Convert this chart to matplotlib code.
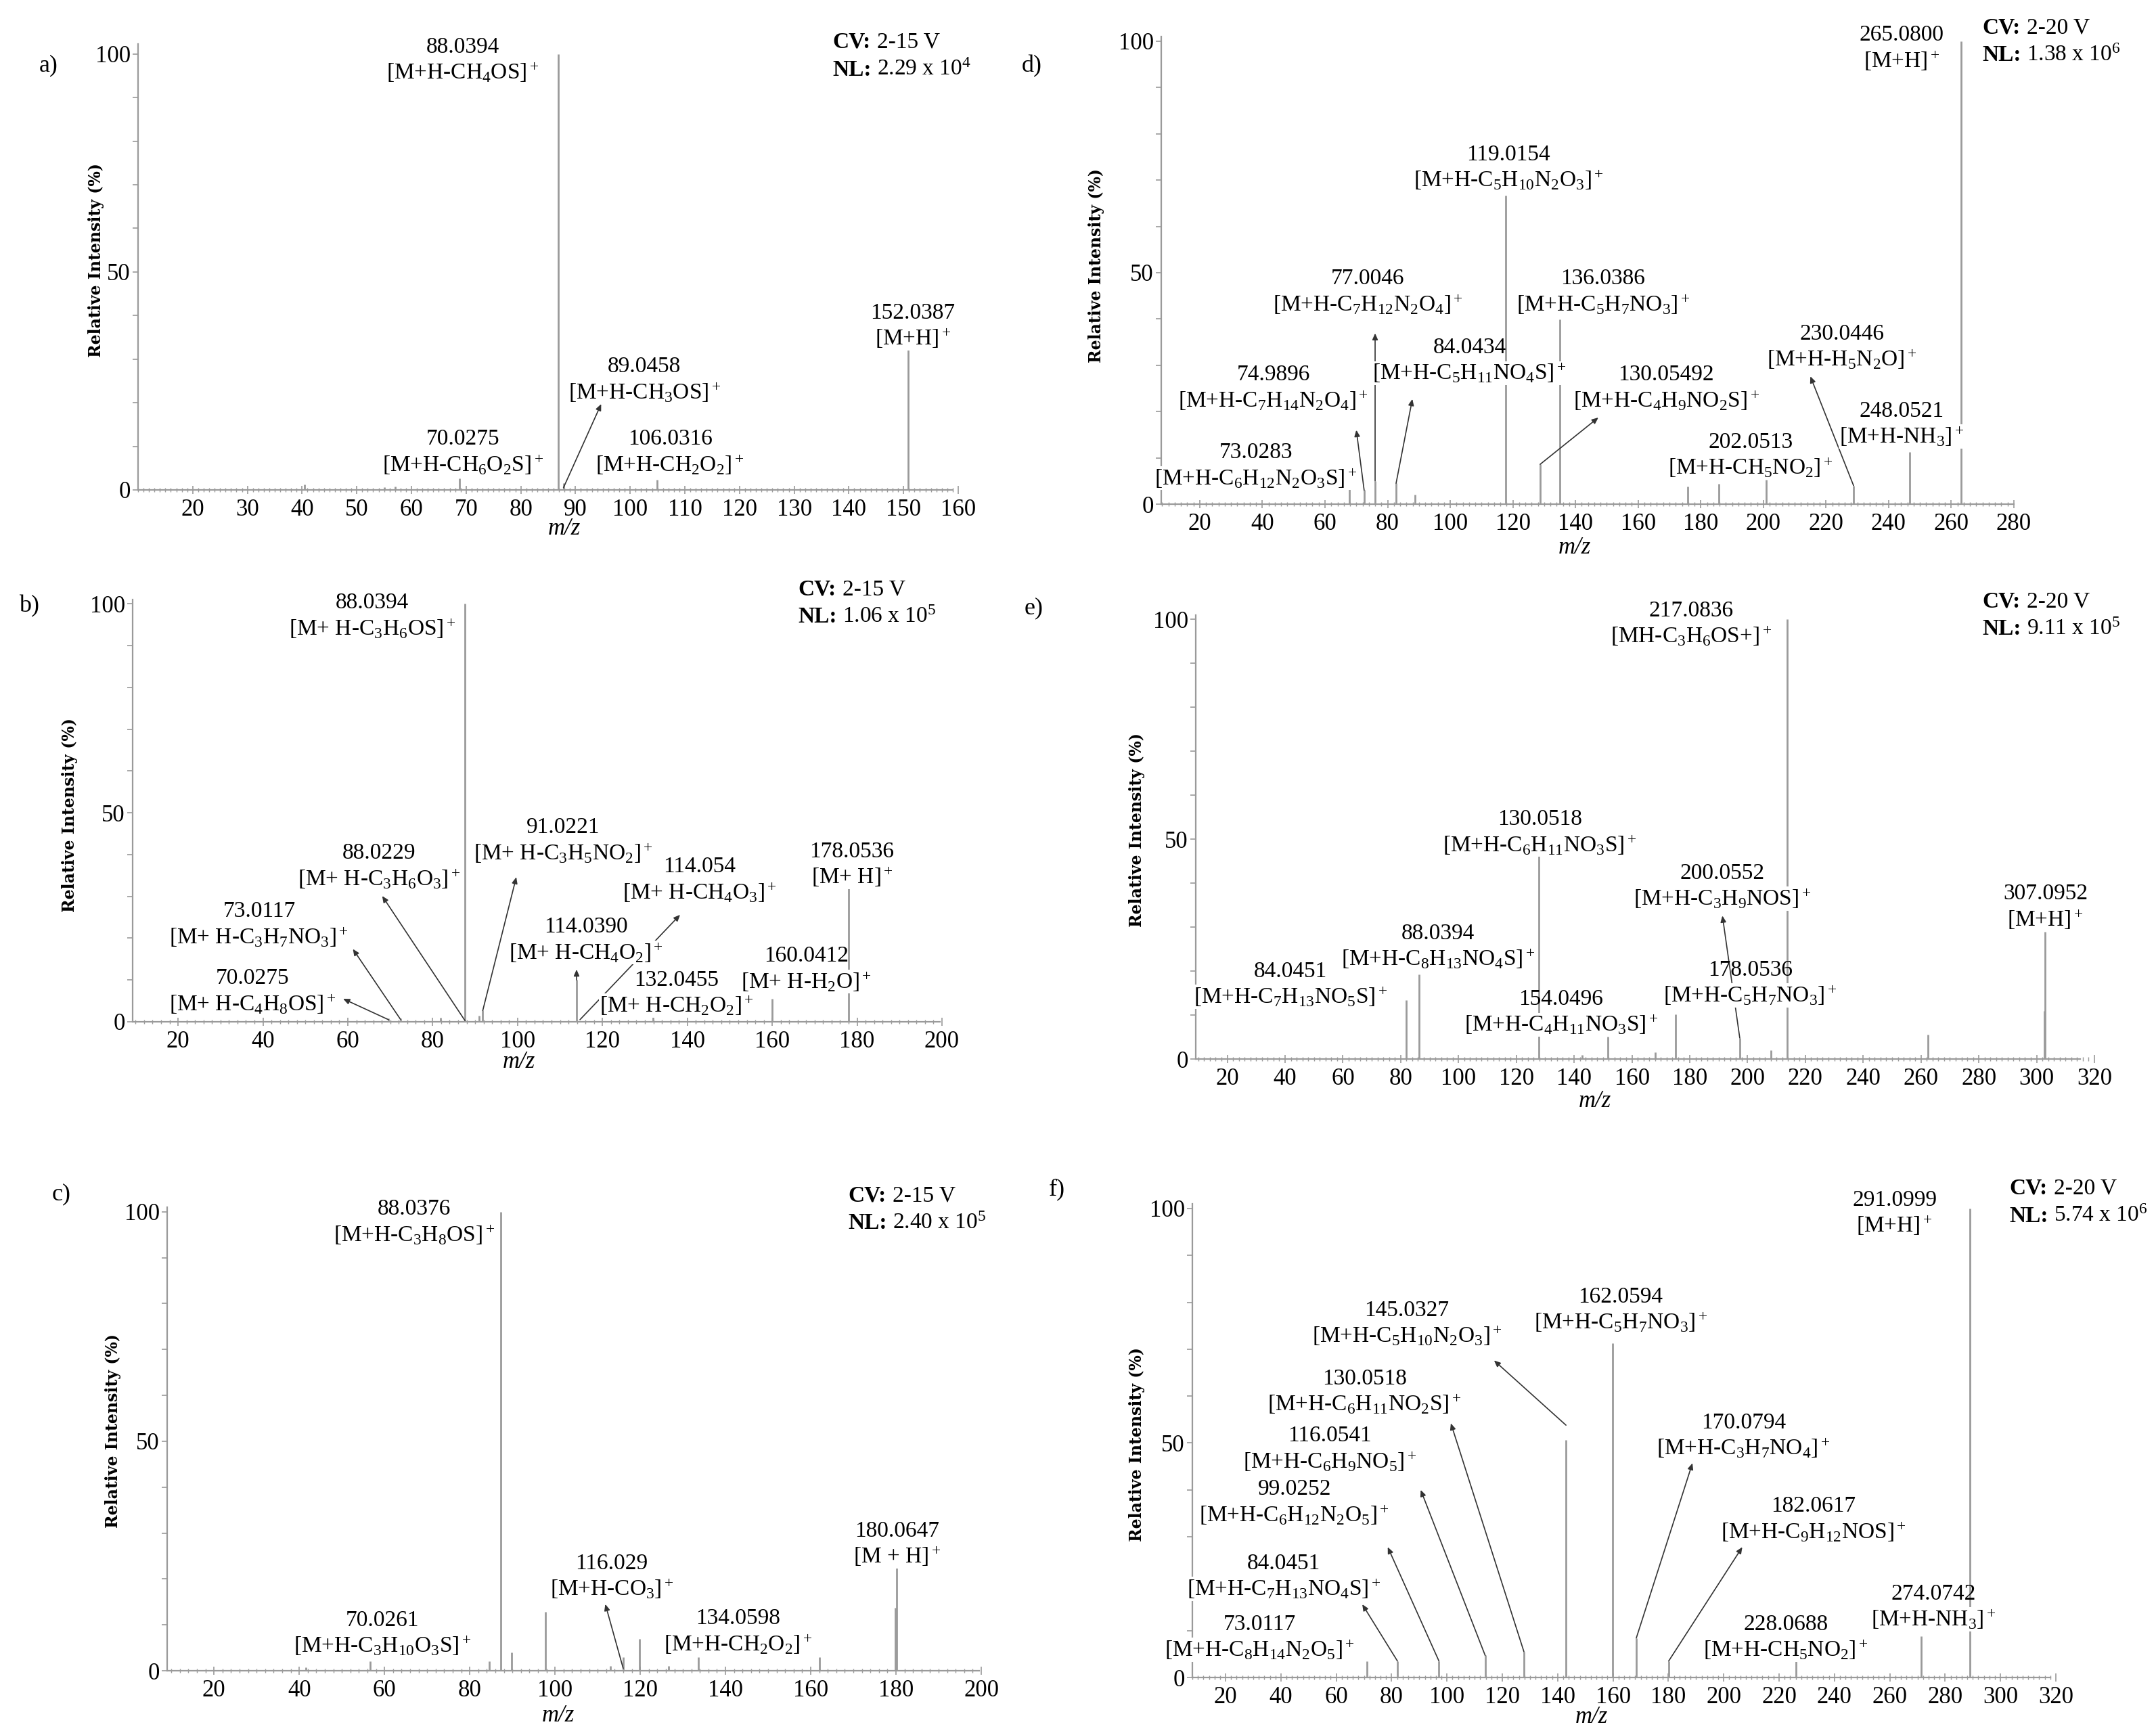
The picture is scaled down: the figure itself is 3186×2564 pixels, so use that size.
import matplotlib
matplotlib.use('Agg')
import numpy as np
import matplotlib.pyplot as plt
from matplotlib.ticker import MultipleLocator

plt.rcParams['font.family'] = ['Liberation Serif', 'DejaVu Serif']
plt.rcParams['mathtext.fontset'] = 'custom'
plt.rcParams['mathtext.rm'] = 'Liberation Serif'
plt.rcParams['mathtext.it'] = 'Liberation Serif:italic'
plt.rcParams['mathtext.bf'] = 'Liberation Serif:bold'

# ---- spectra: peak m/z and relative intensity (%) ----
mz_a = [40.5, 55, 57, 68.8, 86.9, 87.8, 104.9, 150.9]
int_a = [1.2, 0.6, 0.8, 2.7, 100, 1.5, 2.4, 32.1]
lab_a = [('88.0394', '[M+H-CH$_4$OS]$^+$'), ('152.0387', '[M+H]$^+$'),
         ('89.0458', '[M+H-CH$_3$OS]$^+$'), ('70.0275', '[M+H-CH$_6$O$_2$S]$^+$'),
         ('106.0316', '[M+H-CH$_2$O$_2$]$^+$')]

mz_b = [69.6, 72.4, 81.9, 87.6, 91.0, 91.8, 113.9, 131.9, 159.9, 178.0]
int_b = [0.8, 0.8, 1.0, 100, 1.5, 2.7, 10, 2.0, 5.5, 32.0]
lab_b = [('88.0394', '[M+ H-C$_3$H$_6$OS]$^+$'), ('88.0229', '[M+ H-C$_3$H$_6$O$_3$]$^+$'),
         ('91.0221', '[M+ H-C$_3$H$_5$NO$_2$]$^+$'), ('114.054', '[M+ H-CH$_4$O$_3$]$^+$'),
         ('178.0536', '[M+ H]$^+$'), ('73.0117', '[M+ H-C$_3$H$_7$NO$_3$]$^+$'),
         ('114.0390', '[M+ H-CH$_4$O$_2$]$^+$'), ('70.0275', '[M+ H-C$_4$H$_8$OS]$^+$'),
         ('132.0455', '[M+ H-CH$_2$O$_2$]$^+$'), ('160.0412', '[M+ H-H$_2$O]$^+$')]

mz_c = [41.5, 56.7, 84.5, 87.3, 89.8, 97.7, 113, 116, 119.8, 126.7, 133.6, 162, 179.8, 180.2]
int_c = [0.8, 2.0, 2.0, 100, 4.0, 12.8, 1.0, 3.0, 7.0, 1.0, 3.0, 3.0, 13.7, 23.3]
lab_c = [('88.0376', '[M+H-C$_3$H$_8$OS]$^+$'), ('180.0647', '[M + H]$^+$'),
         ('116.029', '[M+H-CO$_3$]$^+$'), ('70.0261', '[M+H-C$_3$H$_{10}$O$_3$S]$^+$'),
         ('134.0598', '[M+H-CH$_2$O$_2$]$^+$')]

mz_d = [67.8, 72.5, 76, 82.7, 88.7, 117.7, 128.7, 135, 175.8, 185.8, 200.9, 228.8, 246.7, 263.1]
int_d = [3.5, 3.0, 5.0, 4.5, 2.0, 66.7, 8.6, 39.9, 3.8, 4.4, 5.2, 4.0, 11.2, 100]
lab_d = [('265.0800', '[M+H]$^+$'), ('119.0154', '[M+H-C$_5$H$_{10}$N$_2$O$_3$]$^+$'),
         ('77.0046', '[M+H-C$_7$H$_{12}$N$_2$O$_4$]$^+$'), ('136.0386', '[M+H-C$_5$H$_7$NO$_3$]$^+$'),
         ('84.0434', '[M+H-C$_5$H$_{11}$NO$_4$S]$^+$'), ('74.9896', '[M+H-C$_7$H$_{14}$N$_2$O$_4$]$^+$'),
         ('130.05492', '[M+H-C$_4$H$_9$NO$_2$S]$^+$'), ('230.0446', '[M+H-H$_5$N$_2$O]$^+$'),
         ('248.0521', '[M+H-NH$_3$]$^+$'), ('202.0513', '[M+H-CH$_5$NO$_2$]$^+$'),
         ('73.0283', '[M+H-C$_6$H$_{12}$N$_2$O$_3$S]$^+$')]

mz_e = [82, 86.3, 127.7, 142.7, 151.6, 168, 175, 197.3, 208, 213.7, 262.4, 302.6, 303]
int_e = [13.4, 19.2, 46.8, 1.0, 5.1, 1.5, 10.2, 4.8, 2.0, 100, 5.5, 11, 29]
lab_e = [('217.0836', '[MH-C$_3$H$_6$OS+]$^+$'), ('130.0518', '[M+H-C$_6$H$_{11}$NO$_3$S]$^+$'),
         ('200.0552', '[M+H-C$_3$H$_9$NOS]$^+$'), ('307.0952', '[M+H]$^+$'),
         ('88.0394', '[M+H-C$_8$H$_{13}$NO$_4$S]$^+$'), ('84.0451', '[M+H-C$_7$H$_{13}$NO$_5$S]$^+$'),
         ('178.0536', '[M+H-C$_5$H$_7$NO$_3$]$^+$'), ('154.0496', '[M+H-C$_4$H$_{11}$NO$_3$S]$^+$')]

mz_f = [71, 82.1, 97.1, 113.8, 127.8, 143, 159.8, 168.4, 180.1, 226.2, 271.3, 288.9]
int_f = [3.5, 3.5, 3.5, 4.7, 5.5, 50.6, 71.3, 8.4, 3.5, 3.5, 8.8, 100]
lab_f = [('291.0999', '[M+H]$^+$'), ('162.0594', '[M+H-C$_5$H$_7$NO$_3$]$^+$'),
         ('145.0327', '[M+H-C$_5$H$_{10}$N$_2$O$_3$]$^+$'), ('130.0518', '[M+H-C$_6$H$_{11}$NO$_2$S]$^+$'),
         ('116.0541', '[M+H-C$_6$H$_9$NO$_5$]$^+$'), ('99.0252', '[M+H-C$_6$H$_{12}$N$_2$O$_5$]$^+$'),
         ('84.0451', '[M+H-C$_7$H$_{13}$NO$_4$S]$^+$'), ('73.0117', '[M+H-C$_8$H$_{14}$N$_2$O$_5$]$^+$'),
         ('170.0794', '[M+H-C$_3$H$_7$NO$_4$]$^+$'), ('182.0617', '[M+H-C$_9$H$_{12}$NOS]$^+$'),
         ('228.0688', '[M+H-CH$_5$NO$_2$]$^+$'), ('274.0742', '[M+H-NH$_3$]$^+$')]

cv = ['2-15 V', '2-15 V', '2-15 V', '2-20 V', '2-20 V', '2-20 V']
nl = ['2.29 x 10$^4$', '1.06 x 10$^5$', '2.40 x 10$^5$', '1.38 x 10$^6$', '9.11 x 10$^5$', '5.74 x 10$^6$']

# ---- layout (pixels of the 3186x2564 canvas, label spots in data units) ----
W, H = 3186, 2564
GRAY = '#9a9a9a'

panels = [
    dict(tag='a)', tagxy=(72, 97), box=(204, 65, 1416, 724), xmin=10, xend=159, ytop=102.3,
         ticks=np.arange(20, 161, 10), minor=1, mz=mz_a, it=int_a, labels=lab_a,
         lpos=[(69.4, 95.8), (151.7, 34.8), (102.6, 22.4), (69.4, 5.8), (107.3, 5.8)],
         ptr=[(94.7, 19.7, 87.8, 0.5)],
         cvxy=(1230, 62), ylx=142, yly=385, mzx=0.52, mzoff=58),
    dict(tag='b)', tagxy=(43, 896), box=(196, 886, 1392, 1510), xmin=9.3, xend=199.5, ytop=101,
         ticks=np.arange(20, 201, 20), minor=2, mz=mz_b, it=int_b, labels=lab_b,
         lpos=[(65.8, 94.1), (67.4, 34.2), (110.8, 40.4), (142.9, 31.0), (178.8, 34.6),
               (39.1, 20.3), (116.2, 16.6), (37.6, 4.3), (137.5, 3.9), (168.1, 9.6)],
         ptr=[(68.1, 30.1, 87.6, 0.3), (99.7, 34.6, 91.8, 2.7), (61.2, 17.4, 72.4, 0.6),
              (58.9, 5.5, 69.6, 0.5), (138.3, 25.6, 114.7, 0.5), (113.9, 12.5, 113.9, 10)],
         cvxy=(1179, 871), ylx=103, yly=1204, mzx=0.477, mzoff=60),
    dict(tag='c)', tagxy=(91, 1765), box=(247, 1784, 1450, 2469), xmin=9, xend=199.5, ytop=101,
         ticks=np.arange(20, 201, 20), minor=2, mz=mz_c, it=int_c, labels=lab_c,
         lpos=[(67, 95), (180.2, 24.9), (113.3, 17.8), (59.5, 5.4), (143, 5.8)],
         ptr=[(111.8, 14.5, 116, 0.5)],
         cvxy=(1253, 1767), ylx=167, yly=2115, mzx=0.48, mzoff=66),
    dict(tag='d)', tagxy=(1525, 98), box=(1716, 54, 2976, 745), xmin=7.7, xend=280, ytop=101,
         ticks=np.arange(20, 281, 20), minor=2, mz=mz_d, it=int_d, labels=lab_d,
         lpos=[(244.1, 95.8), (118.6, 70), (73.7, 43.2), (148.8, 43.2), (106.2, 28.3),
               (43.5, 22.4), (169, 22.4), (225.1, 31.3), (244.1, 14.6), (196, 7.9), (37.9, 5.6)],
         ptr=[(76, 36.9, 76, 5), (87.9, 22.7, 82.7, 4.5), (70, 16, 72.5, 3),
              (147.3, 18.7, 128.7, 8.6), (215, 27.6, 228.8, 4)],
         cvxy=(2929, 41), ylx=1620, yly=392, mzx=0.485, mzoff=64),
    dict(tag='e)', tagxy=(1528, 899), box=(1767, 909, 3095, 1565), xmin=9.1, xend=315, ytop=101,
         ticks=np.arange(20, 321, 20), minor=2, mz=mz_e, it=int_e, labels=lab_e,
         lpos=[(180.4, 96.2), (128.1, 48.7), (191.3, 36.5), (303, 31.8), (92.9, 22.8),
               (41.9, 14.2), (201, 14.5), (135.5, 7.8)],
         ptr=[(191.3, 32.6, 197.3, 4.8)],
         cvxy=(2929, 889), ylx=1680, yly=1226, mzx=0.444, mzoff=62),
    dict(tag='f)', tagxy=(1562, 1758), box=(1762, 1779, 3038, 2479), xmin=8, xend=318, ytop=101,
         ticks=np.arange(20, 321, 20), minor=2, mz=mz_f, it=int_f, labels=lab_f,
         lpos=[(261.7, 96.4), (162.8, 75.7), (85.5, 72.9), (70.2, 58.3), (57.6, 46.1),
               (44.9, 34.7), (41, 18.9), (32.2, 5.9), (207.2, 48.9), (232.5, 31.1),
               (222.4, 5.9), (275.7, 12.4)],
         ptr=[(117, 67.6, 143, 53.8), (101.4, 54.2, 127.8, 5.5), (90.5, 40, 113.8, 4.7),
              (78.6, 27.8, 97.1, 3.5), (69.4, 15.6, 82.1, 3.5), (188.7, 45.7, 168.4, 8.4),
              (206.7, 27.8, 180.1, 3.5)],
         cvxy=(2969, 1756), ylx=1680, yly=2134, mzx=0.462, mzoff=58),
]

fig = plt.figure(figsize=(W / 100, H / 100), dpi=100)


def fx(x):
    return x / W


def fy(y):
    return 1 - y / H


for i, p in enumerate(panels):
    l, t, r, b = p['box']
    ax = fig.add_axes([fx(l), fy(b), (r - l) / W, (b - t) / H])
    ax.vlines(p['mz'], 0, p['it'], color=GRAY, lw=2.0, zorder=2)
    ax.set_xlim(p['xmin'], p['ticks'][-1])
    ax.set_ylim(0, p['ytop'])
    for s in ['top', 'right']:
        ax.spines[s].set_visible(False)
    for s in ['left', 'bottom']:
        ax.spines[s].set_color(GRAY)
        ax.spines[s].set_linewidth(1.6)
    ax.spines['bottom'].set_bounds(p['xmin'], p['xend'])
    ax.set_xticks(p['ticks'])
    ax.xaxis.set_minor_locator(MultipleLocator(p['minor']))
    ax.set_yticks([0, 50, 100])
    ax.yaxis.set_minor_locator(MultipleLocator(10))
    ax.tick_params(axis='x', which='major', length=9, width=1.2, color=GRAY,
                   direction='inout', labelsize=25, pad=5)
    ax.tick_params(axis='x', which='minor', length=5, width=1.0, color=GRAY, direction='inout')
    ax.tick_params(axis='y', which='both', length=6, width=1.2, color=GRAY,
                   direction='out', labelsize=25, pad=2)

    for (num, form), (x, y) in zip(p['labels'], p['lpos']):
        ax.text(x, y, form, ha='center', va='center', fontsize=24, zorder=4,
                bbox=dict(facecolor='white', edgecolor='none', pad=0.5))
        ax.annotate(num, xy=(x, y), xytext=(0, 27), textcoords='offset points',
                    ha='center', va='center', fontsize=24, zorder=4)
    for dx, dy, ex, ey in p['ptr']:
        ax.annotate('', xy=(dx, dy), xytext=(ex, ey),
                    arrowprops=dict(arrowstyle='-|>,head_length=0.5,head_width=0.22',
                                    color='#333333', lw=1.2, shrinkA=0, shrinkB=0,
                                    mutation_scale=11), zorder=3)

    ax.text(p['mzx'], -p['mzoff'] / (b - t), 'm/z', transform=ax.transAxes,
            style='italic', ha='center', va='center', fontsize=25)

    fig.text(fx(p['tagxy'][0]), fy(p['tagxy'][1]), p['tag'], fontsize=26,
             ha='center', va='center')
    fig.text(fx(p['ylx']), fy(p['yly']), 'Relative Intensity (%)', rotation=90,
             family='DejaVu Serif', weight='bold', fontsize=17, ha='center', va='center')

    cx, cy = p['cvxy']
    fig.text(fx(cx), fy(cy), 'CV:', weight='bold', fontsize=24, ha='left', va='center')
    fig.text(fx(cx + 66), fy(cy), cv[i], fontsize=24, ha='left', va='center')
    fig.text(fx(cx), fy(cy + 41), 'NL:', weight='bold', fontsize=24, ha='left', va='center')
    fig.text(fx(cx + 66), fy(cy + 41), nl[i], fontsize=24, ha='left', va='center')

fig.savefig('out.png', dpi=100)
